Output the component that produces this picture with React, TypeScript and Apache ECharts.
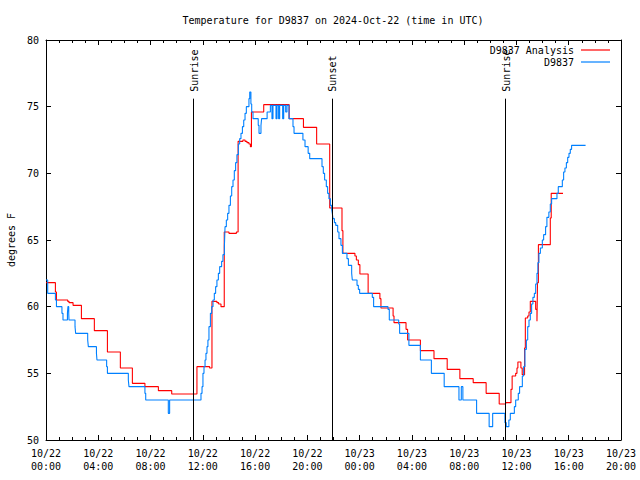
import React, { useEffect, useRef } from 'react';
import * as echarts from 'echarts';

const TITLE = 'Temperature for D9837 on 2024-Oct-22 (time in UTC)';
const SERIES_NAMES = ['D9837 Analysis', 'D9837'];

// [hours since 2024-10-22 00:00 UTC, deg F]
const analysisPoints: [number, number][] = [
  [0, 61.8], [0.72, 61.1], [0.8, 60.5], [1.66, 60.4], [1.76, 60.3], [2.07, 60.1], [2.71, 59.1],
  [3.7, 58.2], [4.7, 56.6], [5.69, 55.4], [6.61, 54.25], [7.57, 54.0], [8.6, 53.7], [9.62, 53.45],
  [11.55, 55.5], [12.52, 55.4], [12.7, 60.4], [13.08, 60.3], [13.21, 60.2], [13.39, 60.0],
  [13.64, 65.6], [14.0, 65.5], [14.57, 65.6], [14.7, 72.4], [15.07, 72.5], [15.23, 72.4],
  [15.38, 72.3], [15.53, 72.2], [15.64, 72.0], [15.72, 74.6], [16.66, 75.15], [18.61, 74.1],
  [19.7, 73.45], [20.71, 72.2], [21.71, 67.4], [22.65, 65.7], [22.72, 64.0], [23.64, 63.8],
  [23.75, 63.5], [23.9, 63.15], [24.02, 62.45], [24.65, 61.0], [25.55, 60.6], [25.63, 59.9],
  [26.56, 59.3], [26.63, 58.8], [27.55, 58.3], [27.67, 57.5], [28.65, 56.7], [29.69, 56.1],
  [30.7, 55.3], [31.67, 54.6], [32.69, 54.3], [33.68, 53.5], [34.68, 52.7], [35.17, 52.8],
  [35.58, 53.8], [35.67, 54.8], [35.94, 55.0], [36.04, 55.4], [36.11, 55.85], [36.34, 55.4],
  [36.44, 54.9], [36.62, 56.9], [36.68, 59.15], [36.86, 59.3], [36.96, 59.6], [37.06, 60.4],
  [37.47, 59.8], [37.57, 58.9], [37.61, 61.8], [37.68, 64.65], [38.59, 66.65], [38.66, 68.5],
  [39.56, 68.5],
];

const observedPoints: [number, number][] = [
  [0, 62.0], [0.13, 61.0], [0.72, 60.5], [0.8, 60.0], [1.22, 59.5], [1.3, 59.0], [1.64, 59.5],
  [1.68, 60.0], [1.74, 59.5], [1.76, 59.0], [2.22, 58.5], [2.27, 58.0], [3.19, 57.5], [3.24, 57.0],
  [3.86, 56.5], [3.9, 56.0], [4.64, 55.5], [4.7, 55.0], [6.3, 54.5], [6.35, 54.0], [7.57, 53.5],
  [7.63, 53.0], [9.36, 52.0], [9.46, 53.0], [11.86, 53.5], [11.94, 54.0], [12.01, 55.0],
  [12.09, 55.5], [12.17, 56.0], [12.24, 56.5], [12.32, 57.0], [12.39, 57.5], [12.47, 58.5],
  [12.58, 59.5], [12.68, 60.0], [12.78, 60.5], [12.88, 61.0], [12.98, 61.5], [13.08, 62.0],
  [13.19, 62.5], [13.29, 63.0], [13.44, 63.4], [13.54, 63.9], [13.65, 64.5], [13.7, 66.0],
  [13.8, 66.5], [13.9, 67.0], [14.0, 67.6], [14.11, 68.3], [14.21, 69.0], [14.31, 69.5],
  [14.41, 70.2], [14.51, 70.8], [14.61, 71.4], [14.72, 72.2], [14.82, 72.6], [14.92, 73.0],
  [15.03, 73.5], [15.13, 74.0], [15.23, 74.5], [15.33, 75.0], [15.53, 75.6], [15.59, 76.1],
  [15.68, 75.2], [15.74, 74.6], [15.84, 74.1], [16.24, 73.6], [16.3, 73.0], [16.45, 73.6],
  [16.5, 74.1], [16.92, 74.6], [17.17, 75.1], [17.29, 74.1], [17.37, 75.1], [17.6, 74.1],
  [17.68, 75.1], [17.8, 74.1], [17.88, 75.1], [18.11, 74.1], [18.19, 75.1], [18.34, 74.6],
  [18.44, 75.1], [18.59, 74.1], [18.9, 73.5], [18.98, 73.0], [19.66, 72.5], [19.82, 72.0],
  [20.06, 71.5], [20.18, 71.1], [21.12, 70.5], [21.22, 70.0], [21.32, 69.5], [21.45, 69.0],
  [21.55, 68.5], [21.65, 68.1], [21.76, 67.6], [21.86, 67.3], [21.91, 67.0], [21.96, 66.6],
  [22.07, 66.3], [22.17, 66.1], [22.32, 65.6], [22.42, 65.1], [22.57, 64.6], [22.68, 64.0],
  [23.03, 63.6], [23.14, 63.1], [23.39, 62.5], [23.44, 62.0], [23.8, 61.6], [23.9, 61.3],
  [24.0, 61.0], [24.97, 60.7], [25.07, 60.0], [26.17, 59.8], [26.27, 59.0], [26.99, 58.7],
  [27.06, 58.0], [27.77, 57.1], [28.65, 56.0], [29.49, 55.0], [30.47, 54.0], [31.6, 53.0],
  [31.78, 54.0], [31.9, 53.0], [32.95, 52.0], [33.91, 51.0], [34.18, 52.0], [35.12, 51.3],
  [35.22, 51.0], [35.42, 51.5], [35.53, 52.0], [35.84, 52.5], [35.94, 53.0], [36.14, 53.5],
  [36.24, 54.0], [36.45, 54.8], [36.55, 55.5], [36.65, 56.8], [36.76, 57.5], [36.86, 58.5],
  [36.96, 59.0], [37.06, 59.5], [37.16, 60.2], [37.26, 60.7], [37.37, 61.0], [37.47, 61.7],
  [37.57, 62.5], [37.64, 63.3], [37.72, 64.0], [37.83, 64.4], [37.98, 65.0], [38.08, 65.4],
  [38.23, 66.0], [38.33, 66.7], [38.48, 67.1], [38.59, 67.7], [38.69, 68.1], [39.1, 68.5],
  [39.2, 69.0], [39.51, 69.5], [39.61, 70.1], [39.71, 70.4], [39.82, 70.8], [39.92, 71.2],
  [40.02, 71.5], [40.12, 71.8], [40.22, 72.1], [41.29, 72.1],
];

const sunHours = [11.25, 21.88, 35.17];
const sunLabels = ['Sunrise', 'Sunset', 'Sunrise'];
const sunLineTop = 75.6;

const xMin = 0;
const xMax = 44;
const xStep = 4;
const yMin = 50;
const yMax = 80;
const yStep = 5;

const FONT = '"DejaVu Sans Mono", "Liberation Mono", monospace';
const FS = 10;

function fmtX(v: number) {
  const day = 22 + Math.floor(v / 24);
  const hr = Math.round(v % 24);
  return `10/${day}\n${String(hr).padStart(2, '0')}:00`;
}

export default function App() {
  const ref = useRef<HTMLDivElement>(null);
  useEffect(() => {
    const chart = echarts.init(ref.current!, null, { renderer: 'svg' });
    const black = '#000';
    const baseX = {
      type: 'value',
      min: xMin,
      max: xMax,
      interval: xStep,
      axisLine: { show: true, onZero: false, lineStyle: { color: black, width: 1 } },
      axisTick: { show: true, inside: true, length: 5, lineStyle: { color: black } },
      minorTick: { show: true, splitNumber: 4, length: 3, lineStyle: { color: black } },
      splitLine: { show: false },
      minorSplitLine: { show: false },
    };
    const baseY = {
      type: 'value',
      min: yMin,
      max: yMax,
      interval: yStep,
      axisLine: { show: true, onZero: false, lineStyle: { color: black, width: 1 } },
      axisTick: { show: true, inside: true, length: 5, lineStyle: { color: black } },
      splitLine: { show: false },
    };
    const legendBase = {
      orient: 'vertical',
      align: 'right',
      right: 30,
      icon: 'rect',
      itemWidth: 29,
      itemHeight: 1.2,
      padding: 0,
      selectedMode: false,
      textStyle: { fontFamily: FONT, fontSize: FS, color: black, padding: [0, 2, 0, 0] },
    };
    const option: any = {
      animation: false,
      backgroundColor: '#fff',
      grid: {
        left: 46,
        top: 40,
        width: 575,
        height: 400,
        containLabel: false,
        outerBoundsMode: 'none',
      },
      legend: [
        { ...legendBase, data: [SERIES_NAMES[0]], top: 45 },
        { ...legendBase, data: [SERIES_NAMES[1]], top: 57 },
      ],
      xAxis: [
        {
          ...baseX,
          position: 'bottom',
          axisLabel: {
            formatter: fmtX,
            fontFamily: FONT,
            fontSize: FS,
            color: black,
            lineHeight: 13,
            margin: 7,
          },
        },
        { ...baseX, position: 'top', axisLabel: { show: false } },
      ],
      yAxis: [
        {
          ...baseY,
          position: 'left',
          axisLabel: { fontFamily: FONT, fontSize: FS, color: black, margin: 7 },
          name: 'degrees F',
          nameLocation: 'middle',
          nameGap: 29,
          nameRotate: 90,
          nameTextStyle: { fontFamily: FONT, fontSize: FS, color: black },
        },
        { ...baseY, position: 'right', axisLabel: { show: false } },
      ],
      series: [
        {
          name: SERIES_NAMES[0],
          type: 'line',
          step: 'end',
          data: analysisPoints,
          symbol: 'none',
          lineStyle: { color: '#ff0000', width: 1.1 },
          itemStyle: { color: '#ff0000' },
        },
        {
          name: SERIES_NAMES[1],
          type: 'line',
          step: 'end',
          data: observedPoints,
          symbol: 'none',
          lineStyle: { color: '#0080ff', width: 1.1 },
          itemStyle: { color: '#0080ff' },
          markLine: {
            silent: true,
            symbol: ['none', 'none'],
            label: { show: false },
            lineStyle: { color: black, width: 1, type: 'solid' },
            data: sunHours.map((t) => [{ coord: [t, yMin] }, { coord: [t, sunLineTop] }]),
          },
        },
      ],
    };
    chart.setOption(option);
    const texts: any[] = sunHours.map((t, i) => {
      const p = chart.convertToPixel({ xAxisIndex: 0, yAxisIndex: 0 }, [t, sunLineTop]) as number[];
      return {
        type: 'text',
        x: p[0] + 1,
        y: p[1] - 7,
        rotation: Math.PI / 2,
        style: {
          text: sunLabels[i],
          font: `${FS}px ${FONT}`,
          fill: black,
          align: 'left',
          textAlign: 'left',
          verticalAlign: 'middle',
          textVerticalAlign: 'middle',
        },
      };
    });
    texts.push({
      type: 'text',
      x: 333,
      y: 20,
      style: {
        text: TITLE,
        font: `${FS}px ${FONT}`,
        fill: black,
        align: 'center',
        textAlign: 'center',
        verticalAlign: 'middle',
        textVerticalAlign: 'middle',
      },
    });
    chart.setOption({ graphic: texts });
    return () => chart.dispose();
  }, []);
  return (
    <div
      ref={ref}
      style={{ position: 'absolute', left: 0, top: 0, width: 640, height: 480, background: '#fff' }}
    />
  );
}
